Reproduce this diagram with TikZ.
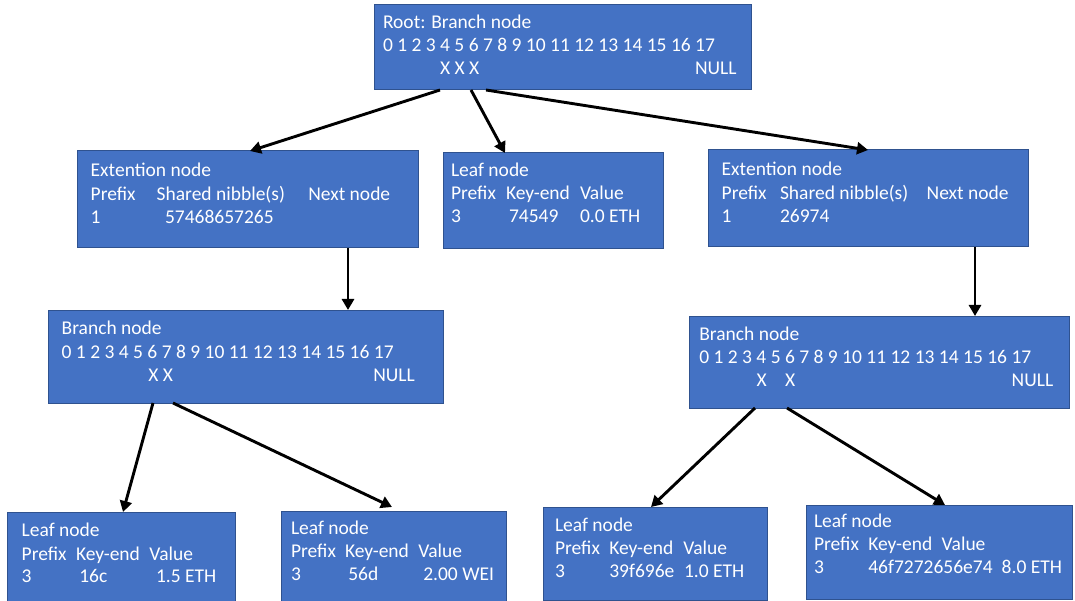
\documentclass[tikz,border=0pt]{standalone}
\usepackage{fontspec}
\setmainfont{Carlito}
\usetikzlibrary{arrows.meta}
\definecolor{boxfill}{HTML}{4472C4}
\definecolor{boxline}{HTML}{2F528F}
\tikzset{
  box/.style={draw=boxline, line width=1pt, fill=boxfill, inner sep=0pt, outer sep=0pt},
  txt/.style={text=white, anchor=base west, inner sep=0pt, outer sep=0pt,
              font=\fontsize{19.5}{23}\selectfont},
  link/.style={draw=black, line width=2.9pt, -{Triangle[length=11pt,width=12pt]}}
}
% \mkbox{name}{x1}{y1}{x2}{y2}: rectangle node spanning the given corners
\newcommand\mkbox[5]{%
  \node[box, minimum width={(#4-#2)*1pt}, minimum height={(#5-#3)*1pt}]
    (#1) at ({(#2+#4)/2},{(#3+#5)/2}) {};}
% \tx{name}{x}{baseline}{text}
\newcommand\tx[4]{\node[txt] (#1) at (#2,#3) {#4};}
\begin{document}
\begin{tikzpicture}[x=1pt,y=-1pt]
\useasboundingbox (0,0) rectangle (1075,601);
\fill[white] (0,0) rectangle (1075,601);

% boxes
\mkbox{root}{374}{5}{751}{90}
\mkbox{extL}{77}{151}{418}{248}
\mkbox{leafM}{443}{153}{663}{249}
\mkbox{extR}{708}{150}{1028}{247}
\mkbox{brL}{48}{310}{443}{403}
\mkbox{brR}{689}{316}{1069}{408}
\mkbox{leafA}{7}{512}{235}{604}
\mkbox{leafB}{281}{511}{506}{604}
\mkbox{leafC}{543}{507}{767}{600}
\mkbox{leafD}{806}{505}{1072}{599}

% root branch node
\tx{rootA}{383}{28.5}{Root: Branch node}
\tx{rootB}{383}{52}{0 1 2 3 4 5 6 7 8 9 10 11 12 13 14 15 16 17}
\tx{rootC}{440}{75}{X X X}
\tx{rootD}{695}{75}{NULL}

% left extension node
\tx{extLa}{90.7}{177}{Extention node}
\tx{extLb}{90.7}{200.5}{Prefix}
\tx{extLc}{156.7}{200.5}{Shared nibble(s)}
\tx{extLd}{308.3}{200.5}{Next node}
\tx{extLe}{90.7}{224}{1}
\tx{extLf}{165}{224}{57468657265}

% middle leaf node
\tx{leafMa}{451}{177}{Leaf node}
\tx{leafMb}{451}{200}{Prefix}
\tx{leafMc}{506}{200}{Key-end}
\tx{leafMd}{580}{200}{Value}
\tx{leafMe}{451}{223}{3}
\tx{leafMf}{509}{223}{74549}
\tx{leafMg}{580}{223}{0.0 ETH}

% right extension node
\tx{extRa}{721.7}{176}{Extention node}
\tx{extRb}{721.7}{199.3}{Prefix}
\tx{extRc}{780}{199.3}{Shared nibble(s)}
\tx{extRd}{926.7}{199.3}{Next node}
\tx{extRe}{721.7}{222.5}{1}
\tx{extRf}{780}{222.5}{26974}

% left branch node
\tx{brLa}{61.7}{334.5}{Branch node}
\tx{brLb}{61.7}{358}{0 1 2 3 4 5 6 7 8 9 10 11 12 13 14 15 16 17}
\tx{brLc}{148.3}{381}{X X}
\tx{brLd}{373.3}{381}{NULL}

% right branch node
\tx{brRa}{699.3}{340}{Branch node}
\tx{brRb}{699.3}{363.3}{0 1 2 3 4 5 6 7 8 9 10 11 12 13 14 15 16 17}
\tx{brRc}{756.7}{386}{X}
\tx{brRd}{785}{386}{X}
\tx{brRe}{1011.7}{386}{NULL}

% bottom leaf nodes
\tx{leafAa}{21.7}{536.7}{Leaf node}
\tx{leafAb}{21.7}{560}{Prefix}
\tx{leafAc}{76}{560}{Key-end}
\tx{leafAd}{149.3}{560}{Value}
\tx{leafAe}{21.7}{582.3}{3}
\tx{leafAf}{79.3}{582.3}{16c}
\tx{leafAg}{156}{582.3}{1.5 ETH}

\tx{leafBa}{291}{534.3}{Leaf node}
\tx{leafBb}{291}{557.7}{Prefix}
\tx{leafBc}{345}{557.7}{Key-end}
\tx{leafBd}{418.3}{557.7}{Value}
\tx{leafBe}{291}{580}{3}
\tx{leafBf}{348.3}{580}{56d}
\tx{leafBg}{423.3}{580}{2.00 WEI}

\tx{leafCa}{555}{531}{Leaf node}
\tx{leafCb}{555}{554.3}{Prefix}
\tx{leafCc}{609.3}{554.3}{Key-end}
\tx{leafCd}{683.3}{554.3}{Value}
\tx{leafCe}{555}{577.7}{3}
\tx{leafCf}{609.3}{577.7}{39f696e}
\tx{leafCg}{684}{577.7}{1.0 ETH}

\tx{leafDa}{814}{527.3}{Leaf node}
\tx{leafDb}{814}{550.7}{Prefix}
\tx{leafDc}{868.3}{550.7}{Key-end}
\tx{leafDd}{941.7}{550.7}{Value}
\tx{leafDe}{814}{573.3}{3}
\tx{leafDf}{868.3}{573.3}{46f7272656e74}
\tx{leafDg}{1001.7}{573.3}{8.0 ETH}

% connectors
\draw[link] ([xshift=66pt]root.south west) -- ([xshift=173pt]extL.north west);
\draw[link] ([xshift=97pt]root.south west) -- ([xshift=62pt]leafM.north west);
\draw[link] ([xshift=112pt]root.south west) -- ([xshift=160pt]extR.north west);
\draw[link] ([xshift=271pt]extL.south west) -- ([xshift=300pt]brL.north west);
\draw[link] ([xshift=267pt]extR.south west) -- ([xshift=286pt]brR.north west);
\draw[link] ([xshift=105pt]brL.south west) -- ([xshift=116pt]leafA.north west);
\draw[link] ([xshift=125pt]brL.south west) -- ([xshift=111pt,yshift=4pt]leafB.north west);
\draw[link] ([xshift=66pt]brR.south west) -- ([xshift=108pt]leafC.north west);
\draw[link] ([xshift=98pt]brR.south west) -- ([xshift=139pt]leafD.north west);
\end{tikzpicture}
\end{document}
